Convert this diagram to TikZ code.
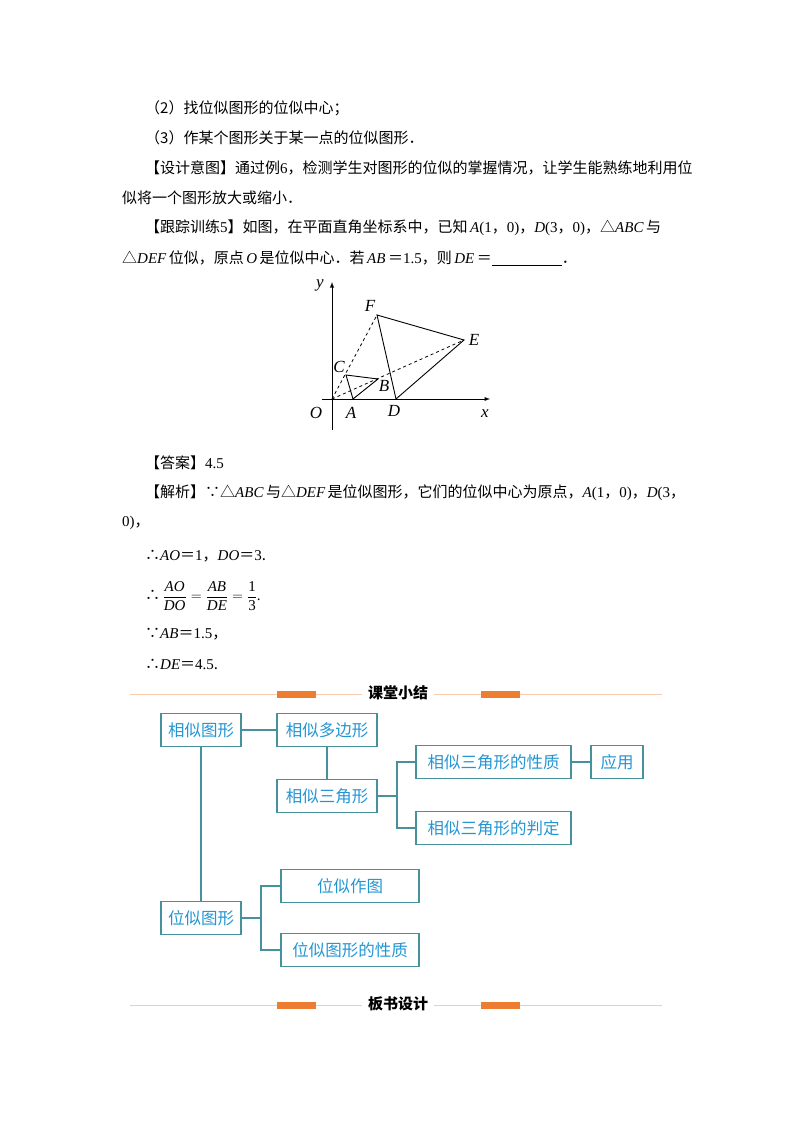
\documentclass[tikz,border=0pt]{standalone}
\usepackage{amsmath}
\usepackage{fontspec}
\setmainfont{Noto Sans CJK SC}
\newfontfamily\lt{Liberation Serif}
\newcommand{\vv}[1]{{\lt\itshape #1}}
\newcommand{\rr}[1]{{\lt #1}}
\definecolor{boxb}{RGB}{70,145,155}
\definecolor{boxt}{RGB}{35,150,210}
\definecolor{org}{RGB}{237,125,49}
\definecolor{lorg}{RGB}{248,203,173}
\begin{document}
\begin{tikzpicture}[x=1pt,y=-1pt,
  txt/.style={anchor=west,inner sep=0pt,font=\fontsize{15}{15}\selectfont},
  bx/.style={draw=boxb,line width=1.2pt,text=boxt,font=\fontsize{16.5}{16.5}\selectfont,minimum height=33pt,inner sep=0pt},
  ln/.style={draw=boxb,line width=1.2pt},
  pt/.style={inner sep=0pt,font=\fontsize{17}{17}\selectfont\lt\itshape},
  hd/.style={font=\fontsize{15}{15}\selectfont\bfseries,inner sep=0pt}]
\useasboundingbox (0,0) rectangle (800,1132);
\node[txt] (t1) at (145,108) {（2）找位似图形的位似中心；};
\node[txt] (t2) at (145,138) {（3）作某个图形关于某一点的位似图形．};
\node[txt] (t3) at (145,168) {【设计意图】通过例\rr{6}，检测学生对图形的位似的掌握情况，让学生能熟练地利用位};
\node[txt] (t4) at (122,198) {似将一个图形放大或缩小．};
\node[txt] (t5) at (145,228) {【跟踪训练\rr{5}】如图，在平面直角坐标系中，已知\,\vv{A}\rr{(1}，\rr{0)}，\vv{D}\rr{(3}，\rr{0)}，△\vv{ABC}\,与};
\node[txt] (t6) at (122,258) {△\vv{DEF}\,位似，原点\,\vv{O}\,是位似中心．若\,\vv{AB}\,＝\rr{1.5}，则\,\vv{DE}\,＝\rule[-2pt]{70pt}{0.6pt}．};
% geometry
\coordinate (O) at (332,399);
\coordinate (A) at (353,399);
\coordinate (D) at (396,399);
\coordinate (C) at (346,375);
\coordinate (B) at (378,379);
\coordinate (F) at (377,315);
\coordinate (E) at (464,340);
\coordinate (xs) at (322,399); \coordinate (xe) at (490,399);
\coordinate (ys) at (332,430); \coordinate (ye) at (332,282);
\draw[-latex,line width=0.9pt] (xs) -- (xe);
\draw[-latex,line width=0.9pt] (ys) -- (ye);
\draw[dashed,line width=0.8pt] (O) -- (F) (O) -- (E);
\draw[line width=0.9pt] (A) -- (C) -- (B) -- cycle;
\draw[line width=0.9pt] (D) -- (F) -- (E) -- cycle;
\node[pt] (ly) at (320,285) {y};
\node[pt] (lF) at (370,306) {F};
\node[pt] (lE) at (474,340) {E};
\node[pt] (lC) at (339,367) {C};
\node[pt] (lB) at (384,386) {B};
\node[pt] (lO) at (316,413) {O};
\node[pt] (lA) at (351,413) {A};
\node[pt] (lD) at (394,411) {D};
\node[pt] (lx) at (485,414) {x};
% answer
\node[txt] (a1) at (145,463) {【答案】\rr{4.5}};
\node[txt] (a2) at (145,493) {【解析】∵△\vv{ABC}\,与△\vv{DEF}\,是位似图形，它们的位似中心为原点，\vv{A}\rr{(1}，\rr{0)}，\vv{D}\rr{(3}，};
\node[txt] (a3) at (122,523) {\rr{0)}，};
\node[txt] (a4) at (145,556) {∴\vv{AO}＝\rr{1}，\vv{DO}＝\rr{3}.};
\node[txt] (a5) at (145,596) {∴\,$\dfrac{\mbox{\vv{AO}}}{\mbox{\vv{DO}}}=\dfrac{\mbox{\vv{AB}}}{\mbox{\vv{DE}}}=\dfrac{\mbox{\rr{1}}}{\mbox{\rr{3}}}$\rr{.}};
\node[txt] (a6) at (145,634) {∵\vv{AB}＝\rr{1.5}，};
\node[txt] (a7) at (145,664) {∴\vv{DE}＝\rr{4.5}.};
% header 1
\coordinate (h1a) at (130,694); \coordinate (h1b) at (662,694);
\draw[lorg,line width=0.8pt] (h1a) -- (h1b);
\fill[org] (277,691) rectangle (316,698);
\fill[org] (481,691) rectangle (520,698);
\node[hd,fill=white,inner xsep=6pt] (h1) at (398,693) {课堂小结};
% boxes
\node[bx,minimum width=80pt] (n1) at (201,730) {相似图形};
\node[bx,minimum width=100pt] (n2) at (327,730) {相似多边形};
\node[bx,minimum width=100pt] (n3) at (327,796) {相似三角形};
\node[bx,minimum width=155pt] (n4) at (493.5,762) {相似三角形的性质};
\node[bx,minimum width=52pt] (n5) at (617,762) {应用};
\node[bx,minimum width=155pt] (n6) at (493.5,828) {相似三角形的判定};
\node[bx,minimum width=80pt] (n7) at (201,918) {位似图形};
\node[bx,minimum width=138pt] (n8) at (350,886) {位似作图};
\node[bx,minimum width=138pt] (n9) at (350,950) {位似图形的性质};
\coordinate (j1) at (397,796);
\coordinate (j2) at (261,918);
\draw[ln] (n1) -- (n2);
\draw[ln] (n1) -- (n7);
\draw[ln] (n2) -- (n3);
\draw[ln] (n4) -- (n5);
\draw[ln] (n3) -- (j1);
\draw[ln] (n4.west) -| (j1) |- (n6.west);
\draw[ln] (n7) -- (j2);
\draw[ln] (n8.west) -| (j2) |- (n9.west);
% header 2
\coordinate (h2a) at (130,1005); \coordinate (h2b) at (662,1005);
\draw[lorg,line width=0.8pt] (h2a) -- (h2b);
\fill[org] (277,1002) rectangle (316,1009);
\fill[org] (481,1002) rectangle (520,1009);
\node[hd,fill=white,inner xsep=6pt] (h2) at (398,1004) {板书设计};
\end{tikzpicture}
\end{document}
